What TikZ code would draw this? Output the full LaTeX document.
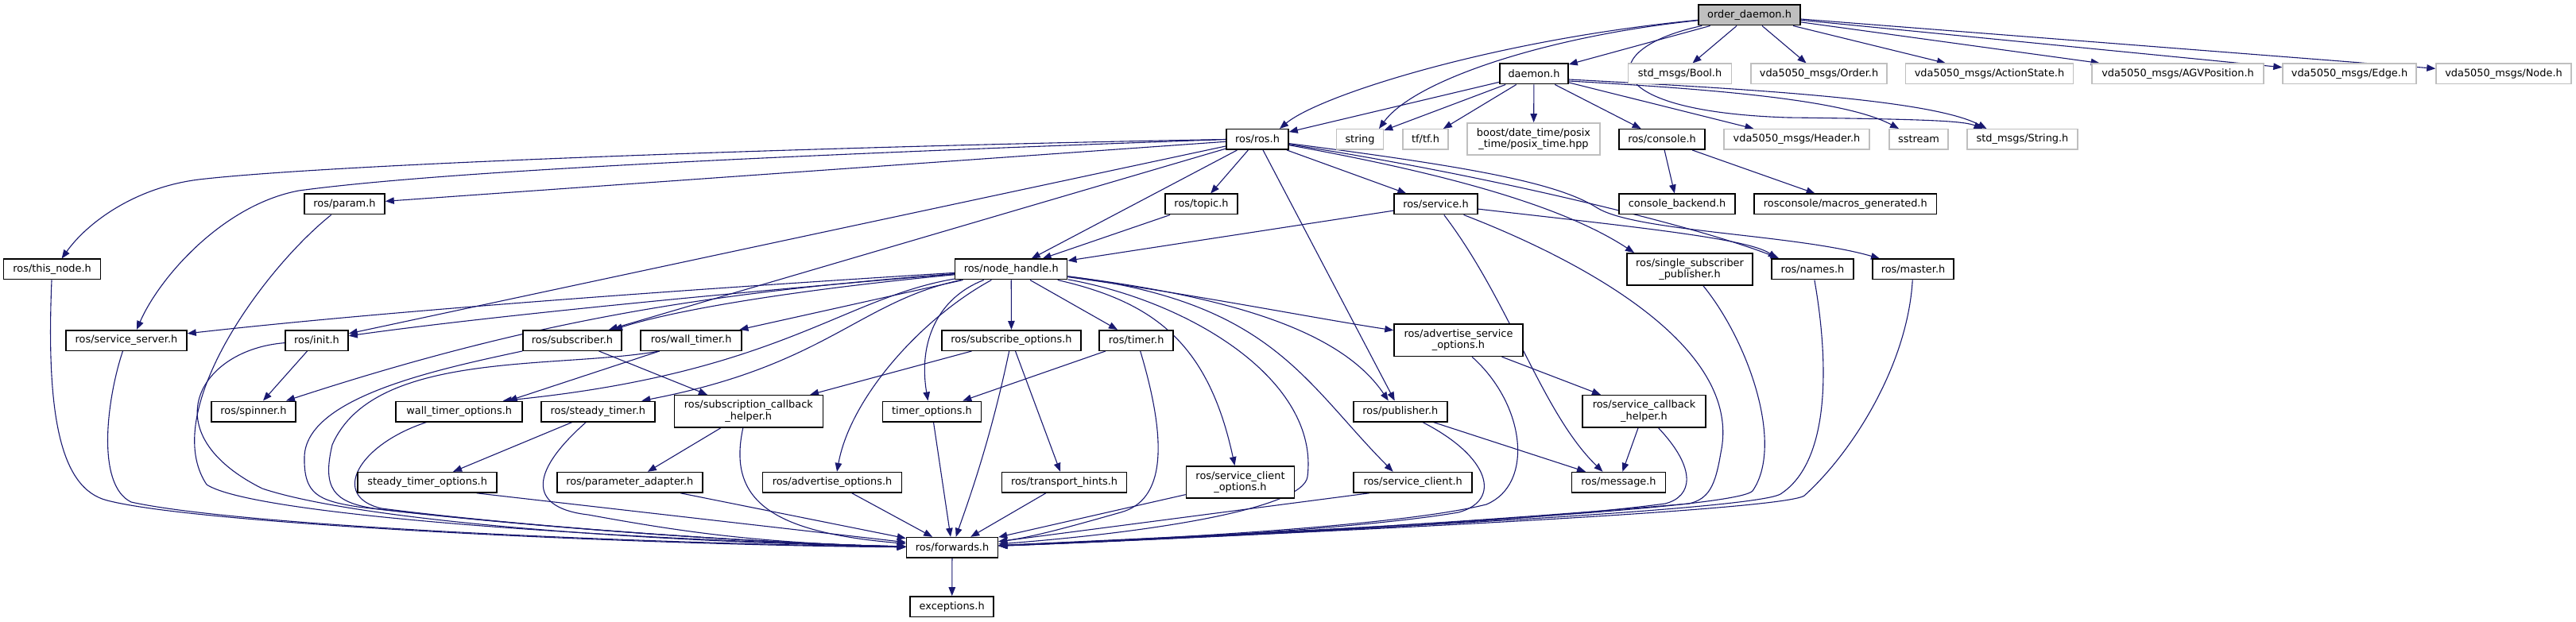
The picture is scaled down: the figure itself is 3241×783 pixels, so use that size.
\documentclass[tikz,border=0pt]{standalone}
\usepackage{fontspec}
\setmainfont{DejaVu Sans}
\usetikzlibrary{arrows.meta}
\definecolor{edgeblue}{HTML}{191970}
\definecolor{boxgray}{HTML}{BFBFBF}
\newcommand{\nodefnt}{\fontsize{12.9pt}{14.5pt}\selectfont}
\pgfdeclarelayer{edgelayer}
\pgfsetlayers{edgelayer,main}
\tikzset{
  nbox/.style={draw=black, line width=1.5pt, fill=white, inner sep=0pt, minimum height=25.5pt, font=\nodefnt, text=black},
  ext/.style={nbox, draw=boxgray},
  two/.style={minimum height=40.3pt, align=center},
  dep/.style={draw=edgeblue, line width=1.1pt, -{Triangle[length=11pt,width=8.5pt]}},
}
\begin{document}
\begin{tikzpicture}[x=1pt,y=-1pt]
\useasboundingbox (0,0) rectangle (3241,783);
% rank 0
\node[nbox, fill=boxgray, minimum width=128pt] (O) at (2201,19) {order\_daemon.h};
% rank 1
\node[nbox, minimum width=86pt] (D) at (1930,93) {daemon.h};
\node[ext, minimum width=130pt] (bool) at (2113.5,93) {std\_msgs/Bool.h};
\node[ext, minimum width=171pt] (order) at (2288.5,93) {vda5050\_msgs/Order.h};
\node[ext, minimum width=211pt] (action) at (2503,93) {vda5050\_msgs/ActionState.h};
\node[ext, minimum width=216pt] (agv) at (2740,93) {vda5050\_msgs/AGVPosition.h};
\node[ext, minimum width=168pt] (edgeh) at (2956,93) {vda5050\_msgs/Edge.h};
\node[ext, minimum width=170pt] (nodeh) at (3150,93) {vda5050\_msgs/Node.h};
% rank 2
\node[nbox, minimum width=78pt] (ros) at (1582,175.5) {ros/ros.h};
\node[ext, minimum width=59pt] (string) at (1711,175.5) {string};
\node[ext, minimum width=57pt] (tf) at (1793.5,175.5) {tf/tf.h};
\node[ext, two, minimum width=167pt] (boost) at (1929.5,175) {boost/date\_time/posix\\\_time/posix\_time.hpp};
\node[nbox, minimum width=108pt] (console) at (2091,175.5) {ros/console.h};
\node[ext, minimum width=183pt] (header) at (2260.5,175.5) {vda5050\_msgs/Header.h};
\node[ext, minimum width=74pt] (sstream) at (2414,175.5) {sstream};
\node[ext, minimum width=139pt] (strh) at (2544.5,175.5) {std\_msgs/String.h};
% rank 3
\node[nbox, minimum width=101pt] (param) at (433.5,257) {ros/param.h};
\node[nbox, minimum width=91pt] (topic) at (1511.5,257) {ros/topic.h};
\node[nbox, minimum width=105pt] (service) at (1806.5,257) {ros/service.h};
\node[nbox, minimum width=146pt] (cback) at (2110,257) {console\_backend.h};
\node[nbox, minimum width=229.5pt] (macros) at (2321.75,257) {rosconsole/macros\_generated.h};
% rank 4
\node[nbox, minimum width=122pt] (thisnode) at (65.6,339) {ros/this\_node.h};
\node[nbox, minimum width=141pt] (nh) at (1272.2,339) {ros/node\_handle.h};
\node[nbox, two, minimum width=158pt] (ssp) at (2126,339) {ros/single\_subscriber\\\_publisher.h};
\node[nbox, minimum width=103pt] (names) at (2280.5,339) {ros/names.h};
\node[nbox, minimum width=102pt] (master) at (2407,339) {ros/master.h};
% rank 5
\node[nbox, minimum width=152pt] (ssrv) at (159,428.5) {ros/service\_server.h};
\node[nbox, minimum width=79pt] (init) at (398.5,428.5) {ros/init.h};
\node[nbox, minimum width=124pt] (sub) at (720,428.5) {ros/subscriber.h};
\node[nbox, minimum width=127pt] (wt) at (869.7,428.5) {ros/wall\_timer.h};
\node[nbox, minimum width=175pt] (so) at (1272.5,428.5) {ros/subscribe\_options.h};
\node[nbox, minimum width=93pt] (tm) at (1429.7,428.5) {ros/timer.h};
\node[nbox, two, minimum width=162pt] (aso) at (1835,428.3) {ros/advertise\_service\\\_options.h};
% rank 6
\node[nbox, minimum width=106pt] (spin) at (319,518) {ros/spinner.h};
\node[nbox, minimum width=159pt] (wto) at (577.7,518) {wall\_timer\_options.h};
\node[nbox, minimum width=143pt] (st) at (752.3,518) {ros/steady\_timer.h};
\node[nbox, two, minimum width=187pt] (sch) at (941.8,517.8) {ros/subscription\_callback\\\_helper.h};
\node[nbox, minimum width=124pt] (tmo) at (1172.5,518) {timer\_options.h};
\node[nbox, minimum width=118pt] (pub) at (1761.8,518) {ros/publisher.h};
\node[nbox, two, minimum width=155pt] (scbh) at (2068.5,517.8) {ros/service\_callback\\\_helper.h};
% rank 7
\node[nbox, minimum width=175pt] (sto) at (537.7,607.3) {steady\_timer\_options.h};
\node[nbox, minimum width=183pt] (pa) at (792.3,607.3) {ros/parameter\_adapter.h};
\node[nbox, minimum width=175pt] (ao) at (1047,607.3) {ros/advertise\_options.h};
\node[nbox, minimum width=157pt] (th) at (1339,607.3) {ros/transport\_hints.h};
\node[nbox, two, minimum width=136pt] (sco) at (1560.5,607) {ros/service\_client\\\_options.h};
\node[nbox, minimum width=149pt] (sc) at (1777.7,607.3) {ros/service\_client.h};
\node[nbox, minimum width=118pt] (msg) at (2036.5,607.3) {ros/message.h};
% rank 8, 9
\node[nbox, minimum width=115pt] (fw) at (1198,689.3) {ros/forwards.h};
\node[nbox, minimum width=105pt] (exc) at (1197.7,763.7) {exceptions.h};

\begin{pgfonlayer}{edgelayer}
% order_daemon.h
\draw[dep] (O) .. controls (1880,50) and (1660,120) .. ([xshift=28pt]ros.north);
\draw[dep] (O) .. controls (1950,45) and (1780,100) .. ([xshift=24pt]string.north);
\draw[dep] (O) -- (D);
\draw[dep] (O) -- (bool);
\draw[dep] (O) -- (order);
\draw[dep] (O) -- (action);
\draw[dep] (O) -- (agv);
\draw[dep] (O) -- (edgeh);
\draw[dep] (O) -- (nodeh);
\draw[dep] ([xshift=5pt]O.south west) .. controls (2010,60) and (2000,140) .. (2250,148) .. controls (2420,150) and (2470,152) .. ([xshift=-50pt]strh.north);
% daemon.h
\draw[dep] (D) -- (ros);
\draw[dep] (D) -- (string);
\draw[dep] (D) -- (tf);
\draw[dep] (D) -- (boost);
\draw[dep] (D) -- (console);
\draw[dep] (D) -- (header);
\draw[dep] ([yshift=-9pt]D.east) .. controls (2150,112) and (2320,125) .. ([xshift=-25pt]sstream.north);
\draw[dep] ([yshift=-7pt]D.east) .. controls (2200,112) and (2430,125) .. ([xshift=-45pt]strh.north);
% ros.h
\draw[dep] (ros.west) .. controls (1100,183) and (430,205) .. (250,226) .. controls (170,236) and (110,280) .. ([xshift=12pt]thisnode.north);
\draw[dep] (ros.west) .. controls (1000,195) and (560,215) .. (376,240) .. controls (280,258) and (200,350) .. ([xshift=13pt]ssrv.north);
\draw[dep] (ros) -- (param);
\draw[dep] (ros) -- (init);
\draw[dep] (ros) -- (sub);
\draw[dep] (ros) -- (nh);
\draw[dep] (ros) -- (topic);
\draw[dep] (ros) -- (pub);
\draw[dep] (ros) -- (service);
\draw[dep] (ros) .. controls (1800,215) and (1960,255) .. ([xshift=-70pt]ssp.north);
\draw[dep] (ros) .. controls (1900,225) and (2150,290) .. ([xshift=-42pt]names.north);
\draw[dep] (ros) .. controls (1850,210) and (1960,230) .. (2010,262) .. controls (2060,292) and (2260,295) .. ([xshift=-42pt]master.north);
% service.h
\draw[dep] (service) -- (nh);
\draw[dep] (service) .. controls (2050,285) and (2200,300) .. ([xshift=-45pt]names.north);
\draw[dep] (service) .. controls (1900,380) and (1940,520) .. ([xshift=-20pt]msg.north);
\draw[dep] (service) .. controls (1970,320) and (2195,430) .. (2165,570) .. controls (2158,612) and (2150,628) .. (2125,634) .. controls (1800,662) and (1450,680) .. (fw);
% topic.h
\draw[dep] (topic) -- (nh);
% console.h
\draw[dep] (console) -- (cback);
\draw[dep] (console) -- (macros);
% param.h
\draw[dep] (param) .. controls (330,340) and (200,520) .. (260,610) .. controls (320,650) and (800,680) .. (fw);
% this_node.h
\draw[dep] (thisnode) .. controls (58,520) and (75,615) .. (135,630) .. controls (250,660) and (800,686) .. (fw);
% service_server.h
\draw[dep] (ssrv) .. controls (135,500) and (120,610) .. (165,632) .. controls (300,662) and (800,684) .. (fw);
% init.h
\draw[dep] (init) -- (spin);
\draw[dep] (init) .. controls (250,440) and (190,545) .. (330,615) .. controls (450,655) and (800,682) .. (fw);
% subscriber.h
\draw[dep] (sub) -- (sch);
\draw[dep] (sub) .. controls (550,465) and (385,500) .. (383,575) .. controls (382,622) and (400,630) .. (450,638) .. controls (650,662) and (950,684) .. (fw);
% wall_timer.h
\draw[dep] ([xshift=-40pt]wt.south) -- ([xshift=62pt]wto.north);
\draw[dep] ([xshift=-40pt]wt.south) .. controls (700,465) and (470,440) .. (418,560) .. controls (405,615) and (420,632) .. (470,640) .. controls (650,662) and (950,684) .. (fw);
% wall_timer_options.h
\draw[dep] (wto) .. controls (450,560) and (415,625) .. (480,640) .. controls (650,662) and (950,684) .. (fw);
% steady_timer.h
\draw[dep] (st) -- (sto);
\draw[dep] ([xshift=-15pt]st.south) .. controls (660,600) and (670,640) .. (740,648) .. controls (850,668) and (950,684) .. (fw);
% steady_timer_options.h
\draw[dep] ([xshift=62pt]sto.south) -- (fw);
% subscription_callback_helper.h
\draw[dep] (sch) -- (pa);
\draw[dep] ([xshift=-7pt]sch.south) .. controls (915,630) and (970,670) .. (fw);
% parameter_adapter.h
\draw[dep] ([xshift=64pt]pa.south) -- (fw);
% advertise_options.h
\draw[dep] (ao) -- (fw);
% subscribe_options.h
\draw[dep] (so) -- (sch);
\draw[dep] (so) .. controls (1245,560) and (1215,640) .. (fw);
\draw[dep] (so) -- (th);
% timer.h
\draw[dep] (tm) -- (tmo);
\draw[dep] ([xshift=5pt]tm.south) .. controls (1470,560) and (1465,630) .. (1410,645) .. controls (1350,662) and (1300,676) .. (fw);
% timer_options.h, transport_hints.h, service_client_options.h, service_client.h
\draw[dep] (tmo) -- (fw);
\draw[dep] (th) -- (fw);
\draw[dep] (sco) -- (fw);
\draw[dep] ([xshift=-55pt]sc.south) -- (fw);
% publisher.h
\draw[dep] (pub) -- (msg);
\draw[dep] ([xshift=28pt]pub.south) .. controls (1875,575) and (1890,630) .. (1835,645) .. controls (1700,668) and (1400,682) .. (fw);
% advertise_service_options.h
\draw[dep] (aso) -- (scbh);
\draw[dep] ([xshift=17pt]aso.south) .. controls (1920,510) and (1930,610) .. (1870,635) .. controls (1750,665) and (1400,681) .. (fw);
% service_callback_helper.h
\draw[dep] (scbh) -- (msg);
\draw[dep] ([xshift=18pt]scbh.south) .. controls (2135,590) and (2130,625) .. (2095,634) .. controls (1900,660) and (1450,680) .. (fw);
% single_subscriber_publisher.h, names.h, master.h
\draw[dep] (ssp) .. controls (2200,430) and (2245,560) .. (2205,618) .. controls (2180,645) and (1500,675) .. (fw);
\draw[dep] (names) .. controls (2300,450) and (2305,580) .. (2240,622) .. controls (2200,645) and (1500,676) .. (fw);
\draw[dep] (master) .. controls (2400,460) and (2330,570) .. (2270,624) .. controls (2240,645) and (1500,677) .. (fw);
% node_handle.h
\draw[dep] (nh) .. controls (900,362) and (500,390) .. (ssrv);
\draw[dep] (nh) .. controls (900,370) and (600,400) .. (init);
\draw[dep] (nh) .. controls (900,368) and (680,400) .. ([xshift=41pt]spin.north);
\draw[dep] (nh) .. controls (1000,365) and (850,390) .. ([xshift=52pt]sub.north);
\draw[dep] (nh) -- (wt);
\draw[dep] (nh) .. controls (1060,375) and (980,470) .. ([xshift=55pt]wto.north);
\draw[dep] (nh) .. controls (1080,380) and (1040,460) .. ([xshift=55pt]st.north);
\draw[dep] (nh) .. controls (1180,375) and (1155,430) .. ([xshift=-5pt]tmo.north);
\draw[dep] (nh) .. controls (1160,400) and (1070,500) .. ([xshift=6pt]ao.north);
\draw[dep] (nh) -- (so);
\draw[dep] (nh) -- (tm);
\draw[dep] (nh) .. controls (1450,380) and (1520,430) .. ([xshift=-7pt]sco.north);
\draw[dep] (nh) .. controls (1500,370) and (1650,400) .. (aso);
\draw[dep] (nh) .. controls (1560,375) and (1690,420) .. ([xshift=-15pt]pub.north);
\draw[dep] (nh) .. controls (1600,380) and (1640,480) .. ([xshift=-25pt]sc.north);
\draw[dep] (nh) .. controls (1500,380) and (1660,480) .. (1645,600) .. controls (1640,640) and (1450,670) .. (fw);
% forwards.h
\draw[dep] (fw) -- (exc);
\end{pgfonlayer}
\end{tikzpicture}
\end{document}
